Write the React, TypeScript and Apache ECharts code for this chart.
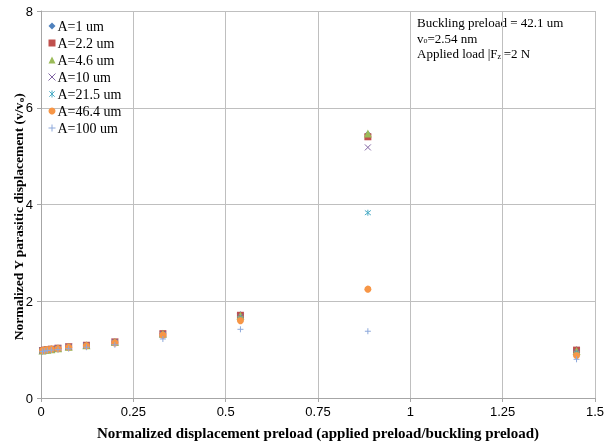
import React, { useEffect, useRef } from "react";
import * as echarts from "echarts";

const xValues = [0.004, 0.01, 0.017, 0.028, 0.046, 0.075, 0.123, 0.2, 0.33, 0.54, 0.885, 1.45];
const seriesNames = ["A=1 um", "A=2.2 um", "A=4.6 um", "A=10 um", "A=21.5 um", "A=46.4 um", "A=100 um"];
const yA1 = [0.98, 0.99, 1.0, 1.01, 1.03, 1.06, 1.09, 1.16, 1.33, 1.72, 5.45, 1.0];
const yA2 = [0.98, 0.99, 1.0, 1.01, 1.03, 1.06, 1.09, 1.16, 1.33, 1.71, 5.4, 0.99];
const yA3 = [0.98, 0.99, 1.0, 1.01, 1.03, 1.06, 1.09, 1.16, 1.33, 1.7, 5.47, 0.97];
const yA4 = [0.98, 0.99, 1.0, 1.01, 1.03, 1.06, 1.09, 1.16, 1.32, 1.68, 5.18, 0.95];
const yA5 = [0.98, 0.99, 1.0, 1.01, 1.03, 1.05, 1.08, 1.15, 1.31, 1.64, 3.83, 0.92];
const yA6 = [0.98, 0.99, 1.0, 1.01, 1.02, 1.05, 1.08, 1.14, 1.3, 1.6, 2.25, 0.88];
const yA7 = [0.96, 0.97, 0.98, 0.99, 1.0, 1.02, 1.05, 1.1, 1.22, 1.42, 1.38, 0.8];
const seriesValues = [yA1, yA2, yA3, yA4, yA5, yA6, yA7];
const xTicks = [0, 0.25, 0.5, 0.75, 1, 1.25, 1.5];
const yTicks = [0, 2, 4, 6, 8];

const colors = ["#4F81BD", "#C0504D", "#9BBB59", "#8064A2", "#4BACC6", "#F79646", "#8EA9DB"];
const symbols = [
  "diamond",
  "rect",
  "triangle",
  "path://M0,0L10,10M10,0L0,10",
  "path://M0,0L10,10M10,0L0,10M5,-1.5L5,11.5",
  "circle",
  "path://M5,0L5,10M0,5L10,5",
];
const strokeOnly = [false, false, false, true, true, false, true];

const App: React.FC = () => {
  const ref = useRef<HTMLDivElement>(null);
  useEffect(() => {
    if (!ref.current) return;
    const chart = echarts.init(ref.current, undefined, { renderer: "svg" });
    const serif = "'Liberation Serif', 'Times New Roman', serif";
    const sans = "'Liberation Sans', Arial, sans-serif";
    const styleFor = (i: number) =>
      strokeOnly[i]
        ? { color: "rgba(0,0,0,0)", borderColor: colors[i], borderWidth: 1, opacity: 1 }
        : { color: colors[i], opacity: 1 };
    const series = seriesNames.map((name, i) => ({
      name,
      type: "scatter",
      symbol: symbols[i],
      symbolSize: strokeOnly[i] ? 6 : i === 2 ? 8 : 7,
      itemStyle: styleFor(i),
      data: xValues.map((x, j) => [x, seriesValues[i][j]]),
    }));
    chart.setOption({
      animation: false,
      grid: { left: 41, right: 12, top: 11, bottom: 48, containLabel: false, outerBoundsMode: "none" },
      legend: {
        orient: "vertical",
        left: 43,
        top: 14,
        itemWidth: 7,
        itemHeight: 7,
        itemGap: 3,
        textStyle: { fontFamily: serif, fontSize: 14, color: "#000", padding: [0, 0, 0, -3] },
        data: seriesNames.map((n, i) => ({ name: n, icon: symbols[i], itemStyle: styleFor(i) })),
      },
      xAxis: {
        type: "value",
        min: xTicks[0],
        max: xTicks[xTicks.length - 1],
        interval: 0.25,
        name: "Normalized displacement preload (applied preload/buckling preload)",
        nameLocation: "middle",
        nameGap: 27,
        nameTextStyle: { fontFamily: serif, fontWeight: "bold", fontSize: 15, color: "#000" },
        axisLine: { show: true, lineStyle: { color: "#A6A6A6" } },
        axisTick: { show: true, length: 4, inside: false, lineStyle: { color: "#A6A6A6" } },
        axisLabel: { fontFamily: sans, fontSize: 13, color: "#000", margin: 7 },
        splitLine: { show: true, lineStyle: { color: "#BFBFBF", width: 1 } },
      },
      yAxis: {
        type: "value",
        min: yTicks[0],
        max: yTicks[yTicks.length - 1],
        interval: 2,
        axisLine: { show: true, lineStyle: { color: "#A6A6A6" } },
        axisTick: { show: true, length: 4, inside: false, lineStyle: { color: "#A6A6A6" } },
        axisLabel: { fontFamily: sans, fontSize: 13, color: "#000", margin: 8 },
        splitLine: { show: true, lineStyle: { color: "#BFBFBF", width: 1 } },
      },
      graphic: [
        {
          type: "text",
          x: 18,
          y: 217,
          rotation: Math.PI / 2,
          style: {
            text: "{a|Normalized Y parasitic displacement (v/v}{s|o}{a|)}",
            align: "center",
            verticalAlign: "middle",
            rich: {
              a: { fontFamily: serif, fontWeight: "bold", fontSize: 13.5, fill: "#000" },
              s: { fontFamily: serif, fontWeight: "bold", fontSize: 9, fill: "#000", padding: [6, 0, 0, 0] },
            },
          },
        },
        {
          type: "text",
          left: 417,
          top: 16,
          style: {
            text: "{a|Buckling preload = 42.1 um}\n{a|v}{s|o}{a|=2.54 nm}\n{a|Applied load |F}{s|z}{a||=2 N}",
            rich: {
              a: { fontFamily: serif, fontSize: 13, fill: "#000", lineHeight: 15.5 },
              s: { fontFamily: serif, fontSize: 8, fill: "#000", lineHeight: 15.5, padding: [5, 0, 0, 0] },
            },
          },
        },
      ],
      series,
    });
    return () => chart.dispose();
  }, []);
  return <div ref={ref} style={{ position: "fixed", left: 0, top: 0, width: 607, height: 446 }} />;
};

export default App;
